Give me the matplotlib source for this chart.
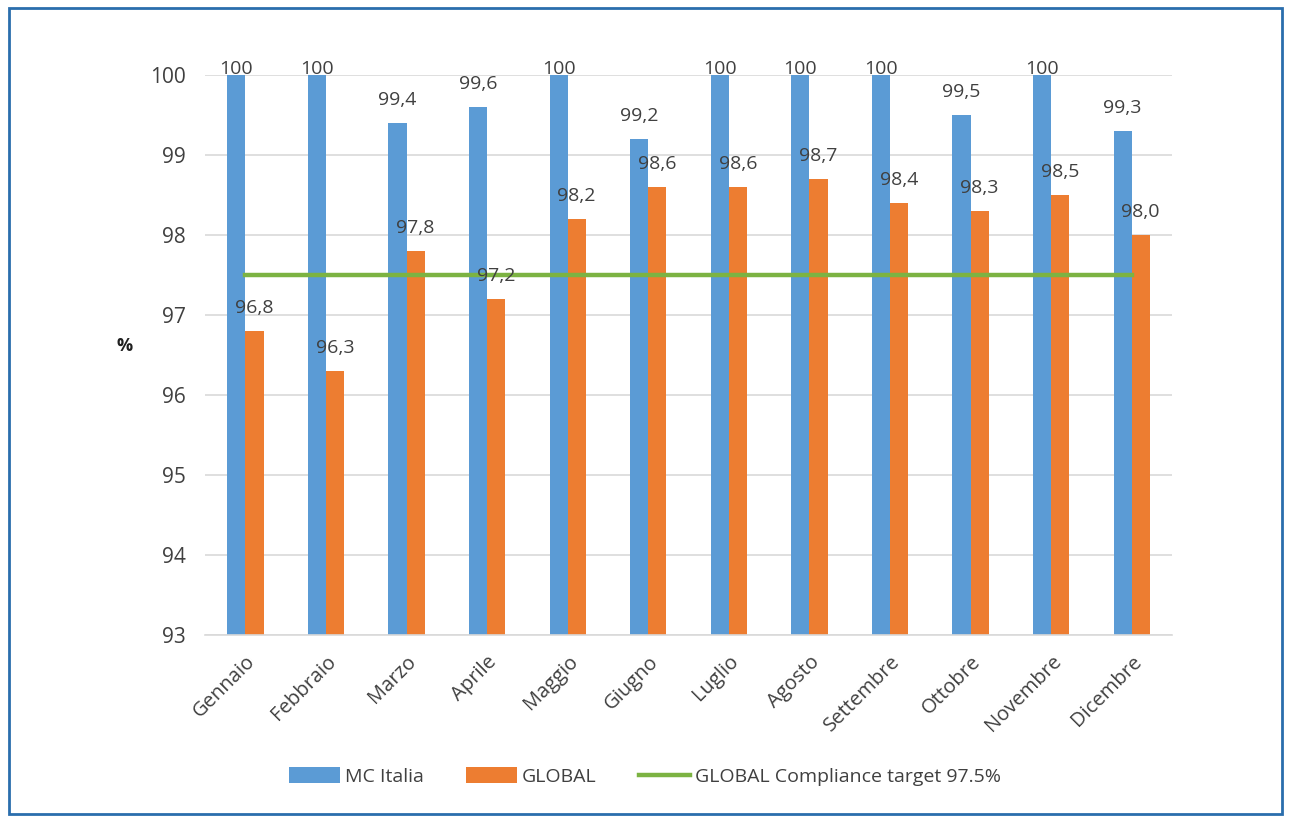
import numpy as np
import matplotlib
matplotlib.use("Agg")
import matplotlib.pyplot as plt
from matplotlib.patches import Rectangle

mesi = ["Gennaio", "Febbraio", "Marzo", "Aprile", "Maggio", "Giugno",
        "Luglio", "Agosto", "Settembre", "Ottobre", "Novembre", "Dicembre"]
mc_italia = [100, 100, 99.4, 99.6, 100, 99.2, 100, 100, 100, 99.5, 100, 99.3]
mc_labels = ["100", "100", "99,4", "99,6", "100", "99,2", "100", "100", "100", "99,5", "100", "99,3"]
global_vals = [96.8, 96.3, 97.8, 97.2, 98.2, 98.6, 98.6, 98.7, 98.4, 98.3, 98.5, 98.0]
global_labels = ["96,8", "96,3", "97,8", "97,2", "98,2", "98,6", "98,6", "98,7", "98,4", "98,3", "98,5", "98,0"]
target = 97.5

plt.rcParams['font.family'] = ['Open Sans', 'DejaVu Sans']

fig = plt.figure(figsize=(12.9, 8.21), dpi=100)
ax = fig.add_axes([0.159, 0.2266, 0.7495, 0.682])

# blue frame around the whole picture
fig.patches.append(Rectangle((0.007, 0.008), 0.987, 0.982, transform=fig.transFigure,
                             fill=False, edgecolor='#2a6ead', linewidth=2))

x = np.arange(len(mesi))
w = 0.225
blue = '#5b9bd5'
orange = '#ed7d31'
green = '#7cb342'

b1 = ax.bar(x - w / 2, mc_italia, w, color=blue, label='MC Italia', zorder=2)
b2 = ax.bar(x + w / 2, global_vals, w, color=orange, label='GLOBAL', zorder=2)
ln, = ax.plot(x, [target] * len(x), color=green, linewidth=3.2,
              label='GLOBAL Compliance target 97.5%', zorder=3)

# labels sit a little above the bar, but are held inside the plot area at the top
for i in range(len(x)):
    ax.text(x[i] - w / 2, min(mc_italia[i] + 0.17, 99.96), mc_labels[i], ha='center',
            va='bottom', fontsize=14, color='#404040', zorder=4, clip_on=False)
    ax.text(x[i] + w / 2, min(global_vals[i] + 0.17, 99.96), global_labels[i], ha='center',
            va='bottom', fontsize=14, color='#404040', zorder=4, clip_on=False)

ax.set_xlim(-0.5, len(x) - 0.5)
ax.set_ylim(93, 100)
ax.set_yticks(range(93, 101))
ax.yaxis.grid(True, color='#d9d9d9', linewidth=1.2, zorder=0)
ax.set_axisbelow(True)
for s in ['top', 'right', 'left']:
    ax.spines[s].set_visible(False)
ax.spines['bottom'].set_color('#d9d9d9')
ax.spines['bottom'].set_linewidth(1.2)
ax.tick_params(length=0, colors='#404040')
ax.tick_params(axis='y', pad=14, labelsize=15)
ax.set_xticks(x)
ax.set_xticklabels(mesi, rotation=45, ha='right', rotation_mode='anchor')
ax.tick_params(axis='x', pad=12, labelsize=14.5)

ax.set_ylabel('%', rotation=0, fontsize=13, fontweight='bold', color='#202020')
ax.yaxis.set_label_coords(-0.083, 0.5)

ax.legend(handles=[b1, b2, ln], loc='upper center', bbox_to_anchor=(0.455, -0.205), ncol=3,
          frameon=False, fontsize=14, handlelength=2.6, handleheight=0.9, columnspacing=2.2,
          handletextpad=0.25, labelcolor='#404040')

fig.savefig('out.png', dpi=100)
